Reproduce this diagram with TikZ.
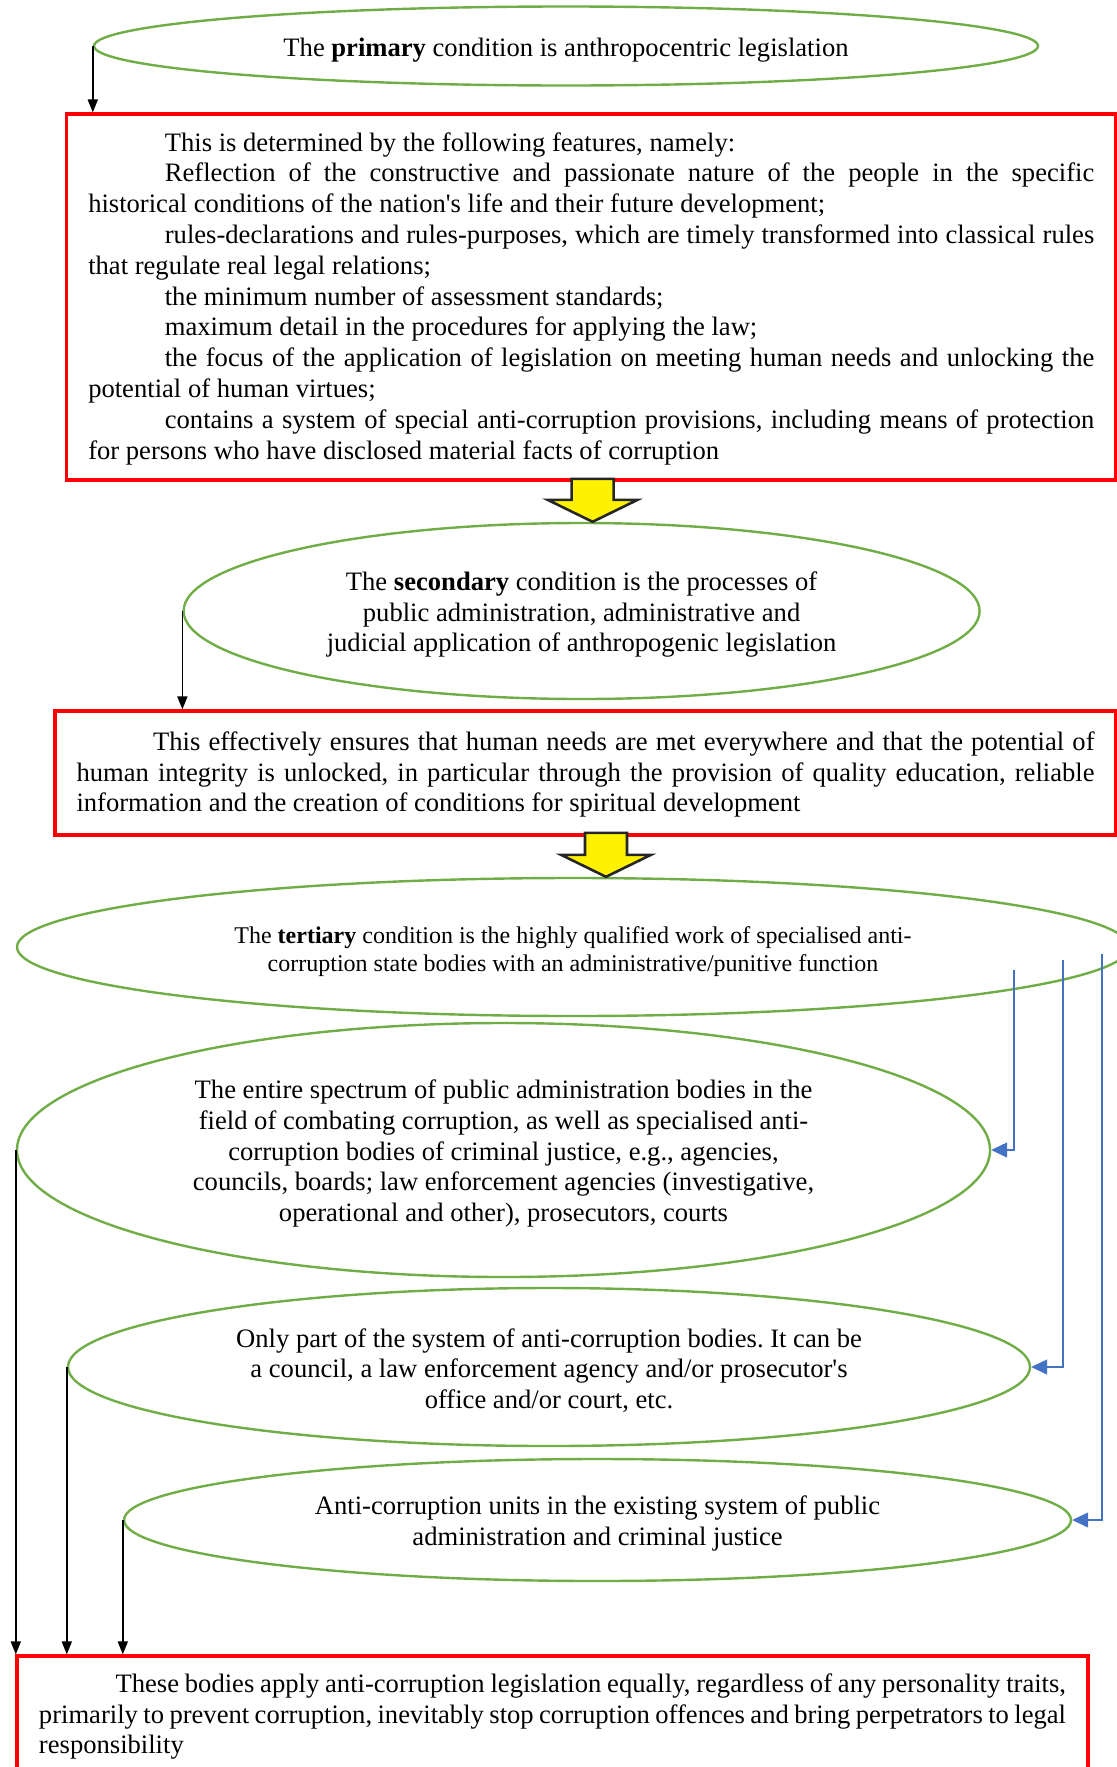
\documentclass[tikz,border=0pt]{standalone}
\usepackage{fontspec}
\setmainfont{Liberation Serif}
\usetikzlibrary{shapes.geometric,arrows.meta}
\definecolor{condgreen}{HTML}{70AD47}
\definecolor{linkblue}{HTML}{4472C4}
\frenchspacing
\newcommand{\firstind}{\hspace*{38.3pt}}
\tikzset{
  cond/.style={ellipse, draw=condgreen, line width=1.2pt, inner sep=0pt,
    align=flush center, font=\fontsize{13.3}{15.4}\selectfont,
    execute at begin node=\rule{0pt}{13pt}},
  featbox/.style={rectangle, draw=red, line width=1.6pt, inner sep=0pt,
    align=justify, font=\fontsize{13.3}{15.4}\selectfont,
    execute at begin node=\rule{0pt}{11pt}},
  arr/.style={line width=0.8pt, -{Triangle[length=6.5pt,width=5pt]}},
  bluearr/.style={draw=linkblue, line width=0.65pt, -{Triangle[length=8pt,width=7.5pt]}},
  yarrow/.style={fill=yellow, draw=black!85, line width=1.3pt, line join=miter}
}
\begin{document}
\begin{tikzpicture}[x=0.5pt,y=0.5pt]
\useasboundingbox (0,0) rectangle (1117,-1767);
\clip (0,0) rectangle (1117,-1767);
% primary condition
\node[cond, minimum width=472pt, minimum height=39.5pt] (prim) at (566,-46)
  {The \textbf{primary} condition is anthropocentric legislation};
\node[featbox, text width=503pt, minimum width=524.75pt, minimum height=183pt] (feat) at (591.25,-297)
  {\firstind This is determined by the following features, namely:\par
   \firstind Reflection of the constructive and passionate nature of the people in the specific\linebreak
   historical conditions of the nation\textquotesingle s life and their future development;\par
   \firstind rules-declarations and rules-purposes, which are timely transformed into classical rules\linebreak
   that regulate real legal relations;\par
   \firstind the minimum number of assessment standards;\par
   \firstind maximum detail in the procedures for applying the law;\par
   \firstind the focus of the application of legislation on meeting human needs and unlocking the\linebreak
   potential of human virtues;\par
   \firstind contains a system of special anti-corruption provisions, including means of protection\linebreak
   for persons who have disclosed material facts of corruption};
\draw[arr] (prim.west) -- (prim.west |- feat.north);
% secondary condition
\node[cond, text width=275pt, minimum width=398pt, minimum height=88pt] (sec) at (581.6,-611)
  {The \textbf{secondary} condition is the processes of\\
   public administration, administrative and\\
   judicial application of anthropogenic legislation};
\draw[yarrow] ([xshift=5.5pt]sec.north) -- ++(45,22) -- ++(-24,0) -- ++(0,21)
  -- ++(-42,0) -- ++(0,-21) -- ++(-24,0) -- cycle;
\node[featbox, text width=509pt, minimum width=530.5pt, minimum height=62pt] (ensure) at (585.5,-773)
  {\firstind This effectively ensures that human needs are met everywhere and that the potential of\linebreak
   human integrity is unlocked, in particular through the provision of quality education, reliable\linebreak
   information and the creation of conditions for spiritual development};
\draw[arr] (sec.west) -- (sec.west |- ensure.north);
% tertiary condition
\node[cond, text width=360pt, minimum width=556pt, minimum height=69pt, font=\fontsize{12}{13.9}\selectfont,
  execute at begin node=\rule{0pt}{9pt}] (tert) at (573,-947)
  {The \textbf{tertiary} condition is the highly qualified work of specialised anti-\\
   corruption state bodies with an administrative/punitive function};
\draw[yarrow] ([xshift=16.5pt]tert.north) -- ++(45,22) -- ++(-24,0) -- ++(0,22)
  -- ++(-42,0) -- ++(0,-22) -- ++(-24,0) -- cycle;
% kinds of bodies
\node[cond, text width=330pt, minimum width=486.5pt, minimum height=127pt] (whole) at (503.5,-1150)
  {The entire spectrum of public administration bodies in the\\
   field of combating corruption, as well as specialised anti-\\
   corruption bodies of criminal justice, e.g., agencies,\\
   councils, boards; law enforcement agencies (investigative,\\
   operational and other), prosecutors, courts};
\node[cond, text width=330pt, minimum width=481pt, minimum height=79pt] (part) at (549,-1367)
  {Only part of the system of anti-corruption bodies. It can be\\
   a council, a law enforcement agency and/or prosecutor\textquotesingle s\\
   office and/or court, etc.};
\node[cond, text width=300pt, minimum width=473.5pt, minimum height=61pt] (units) at (597.5,-1520)
  {Anti-corruption units in the existing system of public\\
   administration and criminal justice};
\coordinate (b1) at (1014,-970);
\coordinate (b2) at (1063,-960);
\coordinate (b3) at (1102,-954);
\draw[bluearr] (b1) |- (whole.east);
\draw[bluearr] (b2) |- (part.east);
\draw[bluearr] (b3) |- (units.east);
% result
\node[featbox, text width=513.5pt, minimum width=535.5pt, minimum height=59pt] (apply) at (552.5,-1715)
  {\firstind These bodies apply anti-corruption legislation equally, regardless of any personality traits,\linebreak
   primarily to prevent corruption, inevitably stop corruption offences and bring perpetrators to legal\linebreak
   responsibility};
\draw[arr] (whole.west) -- (whole.west |- apply.north);
\draw[arr] (part.west) -- (part.west |- apply.north);
\draw[arr] (units.west) -- (units.west |- apply.north);
\end{tikzpicture}
\end{document}
